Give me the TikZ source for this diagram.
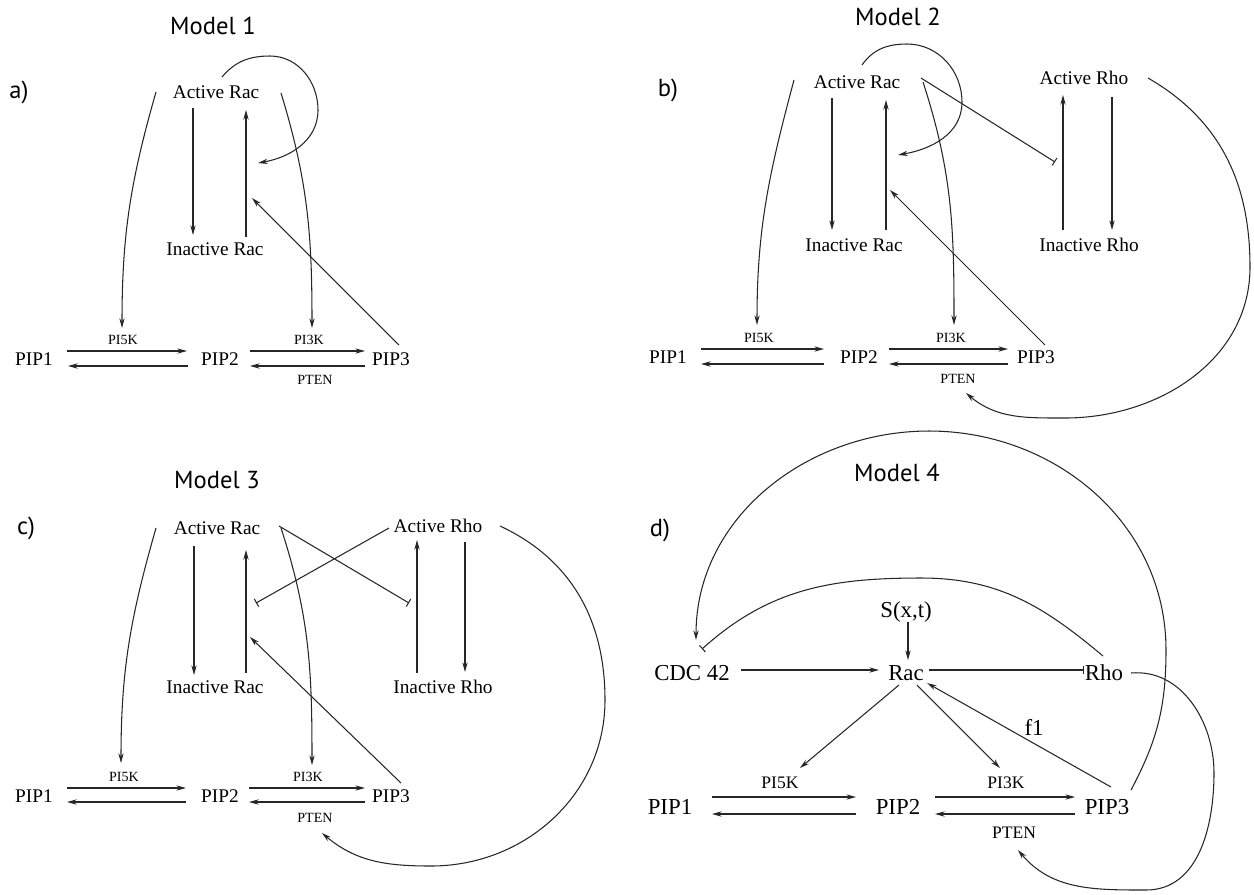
\documentclass[tikz,border=0pt]{standalone}
\usepackage{fontspec}
\setmainfont{Liberation Serif}
\newfontfamily\ttlfont{PT Sans}
\usetikzlibrary{arrows.meta,calc}
\tikzset{
 lbl/.style={inner sep=0pt, font=\fontsize{11}{13}\selectfont},
 lblb/.style={inner sep=0pt, font=\fontsize{13}{15}\selectfont},
 enz/.style={inner sep=0pt, font=\fontsize{8}{9}\selectfont},
 enzb/.style={inner sep=0pt, font=\fontsize{10}{11}\selectfont},
 ttl/.style={inner sep=0pt, font=\ttlfont\fontsize{14}{16}\selectfont},
 ln/.style={line width=0.6pt, draw=black!85},
 arr/.style={ln, -{Stealth[length=5.5pt,width=3pt]}},
 inh/.style={ln, -{Bar[width=5pt]}},
}
\begin{document}
\begin{tikzpicture}[x=0.02cm,y=-0.02cm]
\useasboundingbox (0,0) rectangle (1254,894);
% ---------------- Model 1
\node[ttl] (t1) at (213,26) {Model 1};
\node[ttl] (a1) at (19,92) {a)};
\node[lbl] (ar1) at (216,92) {Active Rac};
\node[lbl] (ir1) at (215,249) {Inactive Rac};
\node[lbl] (p11) at (34,359) {PIP1};
\node[lbl] (p12) at (220,359) {PIP2};
\node[lbl] (p13) at (391,359) {PIP3};
\node[enz] (k51) at (123,340) {PI5K};
\node[enz] (k31) at (309,340) {PI3K};
\node[enz] (pt1) at (315,380) {PTEN};
\draw[arr] ($(ar1)+(-23,16)$) -- ($(ir1)+(-22,-14)$);
\draw[arr] ($(ir1)+(31,-12)$) -- ($(ar1)+(30,18)$);
\draw[arr] ($(ar1)+(6,-15)$) to[out=50,in=180] ($(ar1)+(54,-36)$) to[out=0,in=90] ($(ar1)+(102,18)$) to[out=-90,in=10] ($(ar1)+(42,71)$);
\draw[arr] ($(ar1)+(-60,0)$) to[out=-106,in=90] ($(k51)+(-1,-12)$);
\draw[arr] ($(ar1)+(65,1)$) to[out=-73,in=90] ($(k31)+(3,-12)$);
\draw[arr] ($(p13)+(8,-14)$) -- ($(ir1)+(37,-51)$);
\draw[arr] ($(p11)+(33,-8)$) -- ($(p12)+(-33,-8)$);
\draw[arr] ($(p12)+(-32,7)$) -- ($(p11)+(34,7)$);
\draw[arr] ($(p12)+(30,-8)$) -- ($(p13)+(-26,-8)$);
\draw[arr] ($(p13)+(-26,7)$) -- ($(p12)+(30,7)$);
% ---------------- Model 2
\node[ttl] (t2) at (898,17) {Model 2};
\node[ttl] (b2) at (668,90) {b)};
\node[lbl] (ar2) at (857,82) {Active Rac};
\node[lbl] (ir2) at (854,245) {Inactive Rac};
\node[lbl] (ah2) at (1084,78) {Active Rho};
\node[lbl] (ih2) at (1089,245) {Inactive Rho};
\node[lbl] (p21) at (668,357) {PIP1};
\node[lbl] (p22) at (859,357) {PIP2};
\node[lbl] (p23) at (1036,357) {PIP3};
\node[enz] (k52) at (759,338) {PI5K};
\node[enz] (k32) at (951,338) {PI3K};
\node[enz] (pt2) at (958,379) {PTEN};
\draw[arr] ($(ar2)+(-25,16)$) -- ($(ir2)+(-22,-15)$);
\draw[arr] ($(ir2)+(32,-15)$) -- ($(ar2)+(29,18)$);
\draw[arr] ($(ar2)+(5,-17)$) to[out=55,in=180] ($(ar2)+(50,-38)$) to[out=0,in=90] ($(ar2)+(105,20)$) to[out=-90,in=10] ($(ar2)+(41,73)$);
\draw[inh] ($(ar2)+(64,-4)$) -- ($(ih2)+(-34,-83)$);
\draw[arr] ($(ih2)+(-26,-15)$) -- ($(ah2)+(-21,17)$);
\draw[arr] ($(ah2)+(28,19)$) -- ($(ih2)+(23,-15)$);
\draw[arr] ($(ar2)+(-63,-2)$) to[out=-105,in=90] ($(k52)+(-2,-13)$);
\draw[arr] ($(ar2)+(66,0)$) to[out=-72,in=90] ($(k32)+(3,-13)$);
\draw[arr] ($(p23)+(9,-12)$) -- ($(ir2)+(36,-55)$);
\draw[arr] ($(p21)+(33,-8)$) -- ($(p22)+(-35,-8)$);
\draw[arr] ($(p22)+(-35,7)$) -- ($(p21)+(33,7)$);
\draw[arr] ($(p22)+(30,-8)$) -- ($(p23)+(-28,-8)$);
\draw[arr] ($(p23)+(-28,7)$) -- ($(p22)+(30,7)$);
\draw[arr] ($(ah2)+(64,0)$) to[out=-30,in=90] (1250,267) to[out=-90,in=0] (1065,418) to[out=180,in=-40] ($(pt2)+(8,14)$);
% ---------------- Model 3
\node[ttl] (t3) at (217,480) {Model 3};
\node[ttl] (c3) at (26,528) {c)};
\node[lbl] (ar3) at (217,528) {Active Rac};
\node[lbl] (ah3) at (438,526) {Active Rho};
\node[lbl] (ir3) at (215,687) {Inactive Rac};
\node[lbl] (ih3) at (443,687) {Inactive Rho};
\node[lbl] (p31) at (34,796) {PIP1};
\node[lbl] (p32) at (220,796) {PIP2};
\node[lbl] (p33) at (391,796) {PIP3};
\node[enz] (k53) at (124,777) {PI5K};
\node[enz] (k33) at (308,777) {PI3K};
\node[enz] (pt3) at (315,818) {PTEN};
\draw[arr] ($(ar3)+(-23,18)$) -- ($(ir3)+(-21,-12)$);
\draw[arr] ($(ir3)+(31,-14)$) -- ($(ar3)+(29,22)$);
\draw[arr] ($(ih3)+(-26,-14)$) -- ($(ah3)+(-21,14)$);
\draw[arr] ($(ah3)+(27,16)$) -- ($(ih3)+(22,-15)$);
\draw[inh] ($(ah3)+(-49,2)$) -- ($(ir3)+(41,-84)$);
\draw[inh] ($(ar3)+(62,-2)$) -- ($(ih3)+(-34,-84)$);
\draw[arr] ($(ar3)+(64,0)$) to[out=-72,in=90] ($(k33)+(4,-12)$);
\draw[arr] ($(ar3)+(-61,0)$) to[out=-106,in=90] ($(k53)+(-3,-14)$);
\draw[arr] ($(p33)+(10,-13)$) -- ($(ir3)+(35,-50)$);
\draw[arr] ($(p31)+(33,-8)$) -- ($(p32)+(-34,-8)$);
\draw[arr] ($(p32)+(-34,6)$) -- ($(p31)+(33,6)$);
\draw[arr] ($(p32)+(29,-8)$) -- ($(p33)+(-26,-8)$);
\draw[arr] ($(p33)+(-26,6)$) -- ($(p32)+(29,6)$);
\draw[arr] ($(ah3)+(62,0)$) to[out=-25,in=90] (605,700) to[out=-90,in=0] (431,866) to[out=180,in=-40] ($(pt3)+(7,15)$);
% ---------------- Model 4
\node[ttl] (t4) at (897,473) {Model 4};
\node[ttl] (d4) at (660,530) {d)};
\node[lblb] (s4) at (906,612) {S(x,t)};
\node[lblb] (cdc) at (692,673) {CDC 42};
\node[lblb] (rac4) at (906,673) {Rac};
\node[lblb] (rho4) at (1104,673) {Rho};
\node[lblb] (p41) at (670,807) {PIP1};
\node[lblb] (p42) at (898,807) {PIP2};
\node[lblb] (p43) at (1107,807) {PIP3};
\node[enzb] (k54) at (780,783) {PI5K};
\node[enzb] (k34) at (1006,783) {PI3K};
\node[enzb] (pt4) at (1014,833) {PTEN};
\node[lblb] (f1) at (1034,727) {f1};
\draw[arr] ($(s4)+(2,10)$) -- ($(rac4)+(2,-13)$);
\draw[arr] ($(cdc)+(49,-3)$) -- ($(rac4)+(-27,-3)$);
\draw[inh] ($(rac4)+(23,-3)$) -- ($(rho4)+(-20,-3)$);
\draw[arr] ($(rac4)+(-7,12)$) -- ($(k54)+(20,-15)$);
\draw[arr] ($(rac4)+(11,12)$) -- ($(k34)+(-6,-15)$);
\draw[arr] ($(p43)+(4,-20)$) -- ($(rac4)+(21,10)$);
\draw[inh] ($(rho4)+(-1,-17)$) to[out=140,in=0] (921,578) to[out=180,in=42] ($(cdc)+(10,-24)$);
\draw[arr] ($(p43)+(24,-17)$) to[out=62,in=-90] (1166,650) to[out=90,in=0] (929,431) to[out=180,in=90] ($(cdc)+(4,-33)$);
\draw[arr] ($(rho4)+(27,0)$) to[out=5,in=90] (1214,773) to[out=-90,in=0] (1146,890) to[out=180,in=-50] ($(pt4)+(4,17)$);
\draw[arr] ($(p41)+(42,-10)$) -- ($(p42)+(-42,-10)$);
\draw[arr] ($(p42)+(-42,7)$) -- ($(p41)+(42,7)$);
\draw[arr] ($(p42)+(37,-10)$) -- ($(p43)+(-32,-10)$);
\draw[arr] ($(p43)+(-32,7)$) -- ($(p42)+(37,7)$);
\end{tikzpicture}
\end{document}
